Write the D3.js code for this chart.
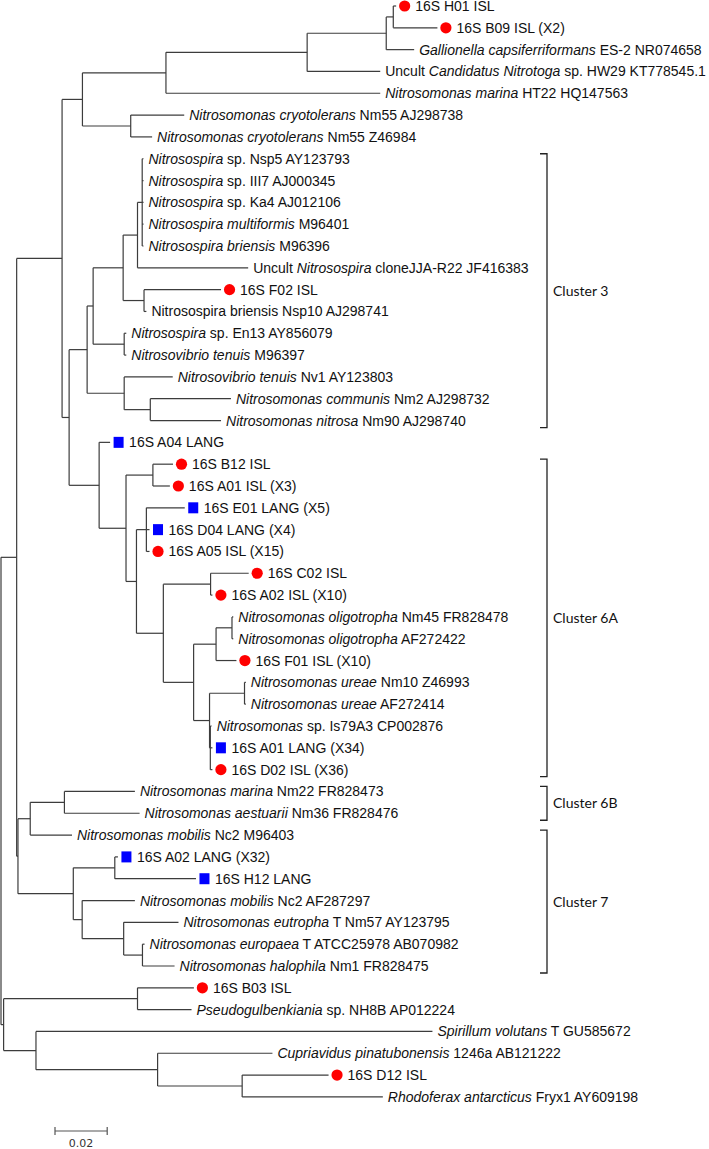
<!DOCTYPE html>
<html><head><meta charset="utf-8">
<script src="https://cdn.jsdelivr.net/npm/d3@7"></script>
<style>body{margin:0;background:#fff}svg{display:block}</style>
</head><body><svg id="chart" width="709" height="1149"></svg>
<script>
// Tree edges: [parent, child, branch length (substitutions/site)], children in display order
const treeEdges = [
  ["root","n17",0.0060],["root","n4",0.0010],
  ["n17","n63",0.0174],["n17","n18",0.0005],
  ["n63","n83",0.0078],["n63","n70",0.0027],
  ["n83","n167",0.0320],["n83","n132",0.0185],
  ["n167","n310",0.0541],["n167","MarHT",0.0821],
  ["n310","n390",0.0303],["n310","UncCand",0.0280],
  ["n390","n396",0.0027],["n390","Gall",0.0107],
  ["n396","H01",0.0011],["n396","B09",0.0169],
  ["n132","CryoAJ",0.0205],["n132","CryoZ",0.0082],
  ["n70","C3",0.0069],["n70","n100",0.0115],
  ["C3","n94",0.0023],["C3","nNv",0.0142],
  ["n94","n124",0.0115],["n94","nEn",0.0119],
  ["n124","n139",0.0055],["n124","nF02",0.0080],
  ["n139","n143",0.0018],["n139","UncNsp",0.0424],
  ["n143","Nsp5",0.0005],["n143","III7",0.0005],["n143","Ka4",0.0005],["n143","Multi",0.0005],["n143","BrienM",0.0005],
  ["nF02","F02",0.0295],["nF02","Nsp10",0.0009],
  ["nEn","En13",0.0008],["nEn","TenM",0.0008],
  ["nNv","Nv1",0.0186],["nNv","nCN",0.0100],
  ["nCN","Comm",0.0309],["nCN","Nitrosa",0.0271],
  ["n100","A04L",0.0042],["n100","n127",0.0103],
  ["n127","nB12",0.0103],["n127","n138",0.0040],
  ["nB12","B12",0.0077],["nB12","A01I",0.0065],
  ["n138","n148",0.0038],["n138","n165",0.0103],
  ["n148","E01L",0.0147],["n148","D04L",0.0012],["n148","A05I",0.0012],
  ["n165","nC02",0.0181],["n165","n195",0.0116],
  ["nC02","C02",0.0146],["nC02","A02I",0.0007],
  ["n195","n218",0.0086],["n195","n211",0.0061],
  ["n218","nOl",0.0061],["n218","F01",0.0078],
  ["nOl","OligNm45",0.0005],["nOl","OligAF",0.0005],
  ["n211","nUr",0.0134],["n211","n212",0.0003],
  ["nUr","UreNm10",0.0005],["nUr","UreAF",0.0005],
  ["n212","Is79",0.0005],["n212","A01L",0.0008],["n212","D02",0.0008],
  ["n18","n30",0.0047],["n18","n74",0.0212],
  ["n30","n6B",0.0131],["n30","MobM",0.0160],
  ["n6B","MarNm22",0.0270],["n6B","Aest",0.0288],
  ["n74","nAH",0.0159],["n74","n83b",0.0034],
  ["nAH","A02L",0.0012],["nAH","H12L",0.0311],
  ["n83b","MobAF",0.0202],["n83b","n125b",0.0159],
  ["n125b","Eutr",0.0210],["n125b","nEH",0.0072],
  ["nEH","Europ",0.0008],["nEH","Halo",0.0123],
  ["n4","nB03",0.0513],["n4","n36",0.0124],
  ["nB03","B03",0.0216],["nB03","Pseudo",0.0207],
  ["n36","Spir",0.1519],["n36","n159",0.0466],
  ["n159","Cupr",0.0440],["n159","nDR",0.0324],
  ["nDR","D12",0.0331],["nDR","Rhodo",0.0539]
];

// Leaf labels (*...* = italic)
const leafIds = ["H01","B09","Gall","UncCand","MarHT","CryoAJ","CryoZ","Nsp5","III7","Ka4","Multi","BrienM","UncNsp","F02","Nsp10","En13","TenM","Nv1","Comm","Nitrosa","A04L","B12","A01I","E01L","D04L","A05I","C02","A02I","OligNm45","OligAF","F01","UreNm10","UreAF","Is79","A01L","D02","MarNm22","Aest","MobM","A02L","H12L","MobAF","Eutr","Europ","Halo","B03","Pseudo","Spir","Cupr","D12","Rhodo"];
const leafLabels = [
  "16S H01 ISL","16S B09 ISL (X2)","*Gallionella capsiferriformans* ES-2 NR074658",
  "Uncult *Candidatus Nitrotoga* sp. HW29 KT778545.1","*Nitrosomonas marina* HT22 HQ147563",
  "*Nitrosomonas cryotolerans* Nm55 AJ298738","*Nitrosomonas cryotolerans* Nm55 Z46984",
  "*Nitrosospira* sp. Nsp5 AY123793","*Nitrosospira* sp. III7 AJ000345","*Nitrosospira* sp. Ka4 AJ012106",
  "*Nitrosospira multiformis* M96401","*Nitrosospira briensis* M96396",
  "Uncult *Nitrosospira* cloneJJA-R22 JF416383","16S F02 ISL","Nitrosospira briensis Nsp10 AJ298741",
  "*Nitrosospira* sp. En13 AY856079","*Nitrosovibrio tenuis* M96397","*Nitrosovibrio tenuis* Nv1 AY123803",
  "*Nitrosomonas communis* Nm2 AJ298732","*Nitrosomonas nitrosa* Nm90 AJ298740",
  "16S A04 LANG","16S B12 ISL","16S A01 ISL (X3)","16S E01 LANG (X5)","16S D04 LANG (X4)","16S A05 ISL (X15)",
  "16S C02 ISL","16S A02 ISL (X10)","*Nitrosomonas oligotropha* Nm45 FR828478","*Nitrosomonas oligotropha* AF272422",
  "16S F01 ISL (X10)","*Nitrosomonas ureae* Nm10 Z46993","*Nitrosomonas ureae* AF272414",
  "*Nitrosomonas* sp. Is79A3 CP002876","16S A01 LANG (X34)","16S D02 ISL (X36)",
  "*Nitrosomonas marina* Nm22 FR828473","*Nitrosomonas aestuarii* Nm36 FR828476","*Nitrosomonas mobilis* Nc2 M96403",
  "16S A02 LANG (X32)","16S H12 LANG","*Nitrosomonas mobilis* Nc2 AF287297","*Nitrosomonas eutropha* T Nm57 AY123795",
  "*Nitrosomonas europaea* T ATCC25978 AB070982","*Nitrosomonas halophila* Nm1 FR828475",
  "16S B03 ISL","*Pseudogulbenkiania* sp. NH8B AP012224","*Spirillum volutans* T GU585672",
  "*Cupriavidus pinatubonensis* 1246a AB121222","16S D12 ISL","*Rhodoferax antarcticus* Fryx1 AY609198"
];
// marker per leaf: "c" = red circle (ISL), "s" = blue square (LANG), "" = none
const leafMarkers = ["c","c","","","","","","","","","","","","c","","","","","","","s","c","c","s","s","c","c","c","","","c","","","","s","c","","","","s","s","","","","","c","","","","c",""];

const clusterNames = ["Cluster 3","Cluster 6A","Cluster 6B","Cluster 7"];
const clusterFirst = ["Nsp5","B12","MarNm22","MobM"];
const clusterLast  = ["Nitrosa","D02","Aest","Halo"];

const scaleBarValue = 0.02;
const scaleBarLabel = "0.02";

// ---------- drawing ----------
const svg = d3.select("#chart");
const lineColor = "#3c3c3c";
const rows = [[null,"root",0], ...treeEdges];
const root = d3.stratify().id(d => d[1]).parentId(d => d[0])(rows);
root.eachBefore(n => { n.dist = n.parent ? n.parent.dist + n.data[2] : 0; });

const rootX = 1;
const x = d3.scaleLinear().domain([0, scaleBarValue]).range([rootX, rootX + 52.2]);
const leaves = root.leaves();
const y = d3.scaleLinear().domain([0, leaves.length - 1]).range([6, 1096.9]);
leaves.forEach((l, i) => { l.yy = y(i); });
root.eachAfter(n => {
  if (n.children) n.yy = (n.children[0].yy + n.children[n.children.length - 1].yy) / 2;
  n.xx = x(n.dist);
});

const g = svg.append("g");
// horizontal branches
g.selectAll("line.h").data(root.descendants().filter(n => n.parent)).join("line")
  .attr("x1", n => n.parent.xx).attr("x2", n => n.xx)
  .attr("y1", n => n.yy).attr("y2", n => n.yy)
  .attr("stroke", lineColor).attr("stroke-width", 1.2);
// vertical connectors
g.selectAll("line.v").data(root.descendants().filter(n => n.children)).join("line")
  .attr("x1", n => n.xx).attr("x2", n => n.xx)
  .attr("y1", n => n.children[0].yy).attr("y2", n => n.children[n.children.length - 1].yy)
  .attr("stroke", lineColor).attr("stroke-width", 1.2);

// labels & markers
const leafById = new Map(leaves.map(l => [l.id, l]));
leafIds.forEach((id, i) => {
  const l = leafById.get(id);
  const m = leafMarkers[i];
  let tx = l.xx + 5;
  if (m === "c") {
    g.append("circle").attr("cx", l.xx + 8.5).attr("cy", l.yy).attr("r", 5.6).attr("fill", "#ff0000");
    tx = l.xx + 19;
  } else if (m === "s") {
    g.append("rect").attr("x", l.xx + 3.5).attr("y", l.yy - 5.5).attr("width", 10).attr("height", 11).attr("fill", "#0000ff");
    tx = l.xx + 19;
  }
  const t = g.append("text").attr("x", tx).attr("y", l.yy).attr("dy", "0.36em")
    .attr("font-family", "'Liberation Sans', Arial, sans-serif").attr("font-size", 14).attr("fill", "#111");
  leafLabels[i].split("*").forEach((part, k) => {
    if (!part) return;
    t.append("tspan").attr("font-style", k % 2 ? "italic" : "normal").text(part);
  });
});

// cluster brackets
const bx = 547;
clusterNames.forEach((name, i) => {
  const y1 = leafById.get(clusterFirst[i]).yy - 5;
  const y2 = leafById.get(clusterLast[i]).yy + 7;
  g.append("path").attr("d", `M${bx-7},${y1}H${bx}V${y2}H${bx-7}`)
    .attr("fill", "none").attr("stroke", "#222").attr("stroke-width", 1.3);
  g.append("text").attr("x", bx + 6).attr("y", (y1 + y2) / 2).attr("dy", "0.36em")
    .attr("font-family", "Lato, 'Open Sans', sans-serif").attr("font-size", 14).attr("fill", "#111").text(name);
});

// scale bar
const sbx0 = 55, sby = 1131;
const sbx1 = sbx0 + (x(scaleBarValue) - x(0));
g.append("path").attr("d", `M${sbx0},${sby-4}V${sby+4}M${sbx0},${sby}H${sbx1}M${sbx1},${sby-4}V${sby+4}`)
  .attr("fill", "none").attr("stroke", "#555").attr("stroke-width", 1.2);
g.append("text").attr("x", (sbx0 + sbx1) / 2).attr("y", 1147).attr("text-anchor", "middle")
  .attr("font-family", "'DejaVu Sans', sans-serif").attr("font-size", 11).attr("fill", "#333").text(scaleBarLabel);
</script></body></html>
